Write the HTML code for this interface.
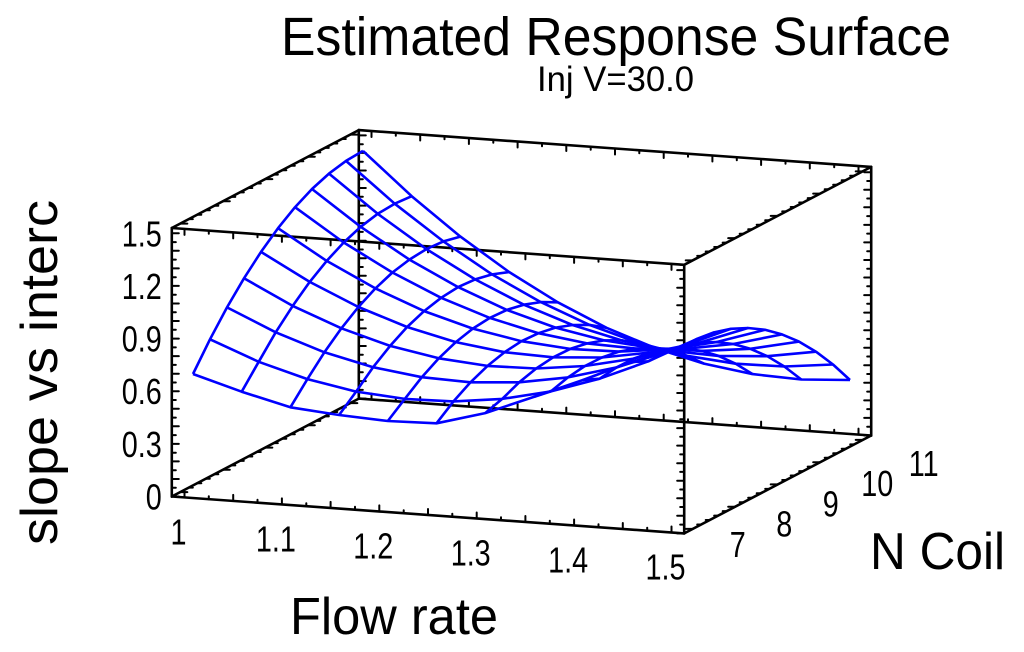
<!DOCTYPE html>
<html><head><meta charset="utf-8"><style>
html,body{margin:0;padding:0;background:#fff;}
svg{display:block;font-family:"Liberation Sans",sans-serif;}
</style></head><body>
<svg id="chart" width="1024" height="652" viewBox="0 0 1024 652" xmlns="http://www.w3.org/2000/svg">
<text x="281" y="55" font-size="54" textLength="670" lengthAdjust="spacingAndGlyphs">Estimated Response Surface</text>
<text x="537" y="91" font-size="35" textLength="157" lengthAdjust="spacingAndGlyphs">Inj V=30.0</text>
<text transform="translate(57,545) rotate(-90)" font-size="52" textLength="345" lengthAdjust="spacingAndGlyphs">slope vs interc</text>
<text x="290" y="634" font-size="52" textLength="208" lengthAdjust="spacingAndGlyphs">Flow rate</text>
<text x="870" y="569" font-size="52" textLength="135" lengthAdjust="spacingAndGlyphs">N Coil</text>
<g id="box"></g>
<g id="ticks"></g>
<g id="labels"></g>
<g id="surface"></g>
</svg>
<script>
const flowRates = [1.0,1.05,1.1,1.15,1.2,1.25,1.3,1.35,1.4,1.45,1.5];
const nCoils = [7,7.4,7.8,8.2,8.6,9,9.4,9.8,10.2,10.6,11];
// zValues[j][i]: row per N coil, column per flow rate
const zValues = [
[0.678,0.597,0.528,0.504,0.490,0.497,0.575,0.687,0.803,0.926,1.026],
[0.825,0.717,0.638,0.587,0.565,0.571,0.605,0.668,0.760,0.879,1.027],
[0.956,0.834,0.740,0.675,0.638,0.629,0.649,0.697,0.774,0.879,1.013],
[1.071,0.934,0.826,0.746,0.695,0.672,0.677,0.711,0.773,0.864,0.983],
[1.171,1.020,0.897,0.803,0.737,0.699,0.690,0.709,0.757,0.833,0.937],
[1.255,1.089,0.952,0.843,0.763,0.711,0.687,0.692,0.725,0.786,0.876],
[1.324,1.143,0.992,0.868,0.773,0.706,0.668,0.658,0.677,0.724,0.799],
[1.377,1.182,1.015,0.878,0.768,0.687,0.634,0.610,0.614,0.646,0.707],
[1.414,1.205,1.024,0.871,0.747,0.651,0.584,0.545,0.535,0.553,0.599],
[1.436,1.212,1.017,0.849,0.711,0.601,0.519,0.465,0.440,0.444,0.475],
[1.442,1.204,0.994,0.812,0.659,0.534,0.438,0.370,0.330,0.319,0.336]
];
const xTicks = [1,1.1,1.2,1.3,1.4,1.5];
const xTickLabels = ["1","1.1","1.2","1.3","1.4","1.5"];
const nTicks = [7,8,9,10,11];
const nTickLabels = ["7","8","9","10","11"];
const zTicks = [0,0.3,0.6,0.9,1.2,1.5];
const zTickLabels = ["0","0.3","0.6","0.9","1.2","1.5"];

const X0=0.987,X1=1.513,N0=6.8,N1=11.2,Z0=0,Z1=1.53;
function P(x,n,z){
  const u=(x-1)/0.5, v=(n-7)/4;
  return [193+487*u+170*v, 493+35*u-89*v-175.5*z];
}
const NS='http://www.w3.org/2000/svg';
function line(g,a,b,color,w){
  const l=document.createElementNS(NS,'line');
  l.setAttribute('x1',a[0].toFixed(1));l.setAttribute('y1',a[1].toFixed(1));
  l.setAttribute('x2',b[0].toFixed(1));l.setAttribute('y2',b[1].toFixed(1));
  l.setAttribute('stroke',color);l.setAttribute('stroke-width',w);
  l.setAttribute('stroke-linecap','round');
  g.appendChild(l);return l;
}
const box=document.getElementById('box');
const C=(a,b,c)=>P(a?X1:X0,b?N1:N0,c?Z1:Z0);
const edges=[
[[0,0,0],[1,0,0]],[[0,0,1],[1,0,1]],[[0,1,0],[1,1,0]],[[0,1,1],[1,1,1]],
[[0,0,0],[0,1,0]],[[1,0,0],[1,1,0]],[[0,0,1],[0,1,1]],[[1,0,1],[1,1,1]],
[[0,0,0],[0,0,1]],[[1,0,0],[1,0,1]],[[0,1,0],[0,1,1]],[[1,1,0],[1,1,1]]];
edges.forEach(e=>{
  const l=line(box,C(...e[0]),C(...e[1]),'#000',2.6);
  
  
});
const tg=document.getElementById('ticks');
function tick(p,dx,dy){
  const l=line(tg,p,[p[0]+dx,p[1]+dy],'#000',2);
  
  
}
for(let k=0;k<=21;k++){const x=1+0.025*k;
  if(x<X0||x>X1)continue;
  [[N0,Z0],[N0,Z1],[N1,Z0],[N1,Z1]].forEach(q=>tick(P(x,q[0],q[1]),0,(q[1]==Z0?-1:1)*(k%2?3:6)));}
for(let k=0;k<=22;k++){const n=6.8+0.2*k;
  [[X0,Z0],[X1,Z0],[X0,Z1],[X1,Z1]].forEach(q=>tick(P(q[0],n,q[1]),(q[0]==X0?1:-1)*(k%5==1?7:4),0));}
for(let k=0;k<=30;k++){const z=0.05*k;
  [[X0,N0],[X1,N0],[X1,N1],[X0,N1]].forEach(q=>tick(P(q[0],q[1],z),(q[0]==X0?1:-1)*(k%2?4:7),0));}
const lg=document.getElementById('labels');
function label(txt,x,y,anchor,name){
  const t=document.createElementNS(NS,'text');
  t.setAttribute('x',x.toFixed(1));t.setAttribute('y',y.toFixed(1));
  t.setAttribute('font-size','36');t.setAttribute('text-anchor',anchor);
  t.textContent=txt;
  
  
  lg.appendChild(t);
  const w=t.getComputedTextLength();
  if(w>0){t.setAttribute('textLength',(w*0.8).toFixed(1));t.setAttribute('lengthAdjust','spacingAndGlyphs');}
}
zTicks.forEach((z,k)=>{const p=P(X0,N0,z);label(zTickLabels[k],p[0]-10,p[1]+13,'end','z-tick-label');});
xTicks.forEach((x,k)=>{const p=P(x,N0,0);label(xTickLabels[k],p[0]-6,p[1]+47,'middle','x-tick-label');});
nTicks.forEach((n,k)=>{const p=P(X1,n,0);label(nTickLabels[k],p[0]+45+4*(n-7),p[1]+28+2*(n-7),'middle','n-tick-label');});

const sg=document.getElementById('surface');
function poly(pts,name){
  const pl=document.createElementNS(NS,'polyline');
  pl.setAttribute('points',pts.map(p=>p[0].toFixed(1)+','+p[1].toFixed(1)).join(' '));
  pl.setAttribute('fill','none');pl.setAttribute('stroke','#0000ff');
  pl.setAttribute('stroke-width','2.6');pl.setAttribute('stroke-linejoin','round');
  
  
  sg.appendChild(pl);
}
nCoils.forEach((n,j)=>poly(flowRates.map((x,i)=>P(x,n,zValues[j][i])),'mesh-line-flow'));
flowRates.forEach((x,i)=>poly(nCoils.map((n,j)=>P(x,n,zValues[j][i])),'mesh-line-ncoil'));
</script>
</body></html>
